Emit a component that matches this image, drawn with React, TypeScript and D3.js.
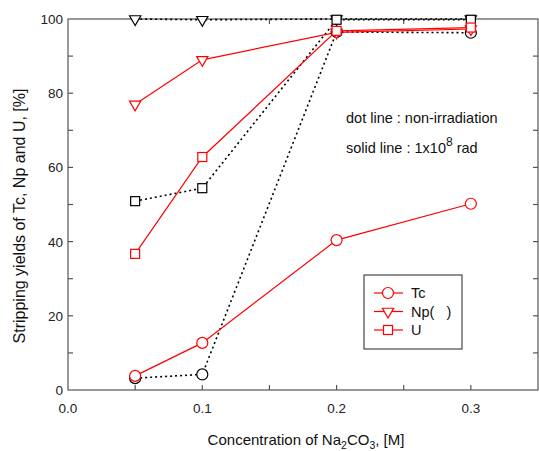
import React, { useRef, useEffect } from "react";
import { select, scaleLinear, line, symbol, symbolTriangle } from "d3";

const concentrations = [0.05, 0.1, 0.2, 0.3];

// solid red: irradiated 1x10^8 rad
const tcIrr = [3.8, 12.7, 40.4, 50.2];
const npIrr = [77.0, 89.0, 96.4, 97.3];
const uIrr = [36.7, 62.8, 96.8, 97.7];

// dotted black: non-irradiation
const tcNon = [3.2, 4.2, 96.5, 96.3];
const npNon = [100, 99.8, 100, 100];
const uNon = [50.9, 54.4, 99.8, 99.8];

const xTicks = [0.0, 0.1, 0.2, 0.3];
const yTicks = [0, 20, 40, 60, 80, 100];
const legendNames = ["Tc", "Np(   )", "U"];

const W = 539;
const H = 451;
const margin = { left: 68, right: 1, top: 19, bottom: 61 };

const FONT = "Arial, 'Liberation Sans', sans-serif";

const App = () => {
  const svgRef = useRef<SVGSVGElement>(null);

  useEffect(() => {
    const svg = select(svgRef.current);
    svg.selectAll("*").remove();

    const x = scaleLinear().domain([0, 0.35]).range([margin.left, W - margin.right]);
    const y = scaleLinear().domain([0, 100]).range([H - margin.bottom, margin.top]);
    const x0 = x(0), x1 = x(0.35), y0 = y(0), y1 = y(100);

    const frame = svg.append("g").attr("stroke", "#555").attr("stroke-width", 1.2);
    frame.append("rect").attr("x", x0).attr("y", y1).attr("width", x1 - x0).attr("height", y0 - y1).attr("fill", "none");

    // ticks, inward, on all sides
    for (let v = 0.05; v < 0.35; v += 0.05) {
      frame.append("line").attr("x1", x(v)).attr("x2", x(v)).attr("y1", y0).attr("y2", y0 - 5);
      frame.append("line").attr("x1", x(v)).attr("x2", x(v)).attr("y1", y1).attr("y2", y1 + 5);
    }
    for (let v = 10; v < 100; v += 10) {
      frame.append("line").attr("x1", x0).attr("x2", x0 + 5).attr("y1", y(v)).attr("y2", y(v));
      frame.append("line").attr("x1", x1).attr("x2", x1 - 5).attr("y1", y(v)).attr("y2", y(v));
    }

    svg.selectAll(".xt").data(xTicks).join("text")
      .attr("x", (d) => x(d)).attr("y", y0 + 23)
      .attr("text-anchor", "middle").attr("font-family", FONT).attr("font-size", 13.5).attr("fill", "#222")
      .text((d) => d.toFixed(1));

    svg.selectAll(".yt").data(yTicks).join("text")
      .attr("x", x0 - 5).attr("y", (d) => y(d) + 5)
      .attr("text-anchor", "end").attr("font-family", FONT).attr("font-size", 13.5).attr("fill", "#222")
      .text((d) => d);

    const xl = svg.append("text").attr("x", 306).attr("y", 445).attr("text-anchor", "middle")
      .attr("font-family", FONT).attr("font-size", 15).attr("fill", "#111");
    xl.append("tspan").text("Concentration of Na");
    xl.append("tspan").attr("dy", 4).attr("font-size", 10.5).text("2");
    xl.append("tspan").attr("dy", -4).text("CO");
    xl.append("tspan").attr("dy", 4).attr("font-size", 10.5).text("3");
    xl.append("tspan").attr("dy", -4).text(", [M]");

    svg.append("text").attr("transform", "translate(25,216) rotate(-90)")
      .attr("text-anchor", "middle").attr("font-family", FONT).attr("font-size", 16).attr("fill", "#111")
      .text("Stripping yields of Tc, Np and U, [%]");

    const ln = line<number>().x((d, i) => x(concentrations[i])).y((d) => y(d));

    const drawMarker = (g, kind, cx, cy, color) => {
      if (kind === "circle") {
        g.append("circle").attr("cx", cx).attr("cy", cy).attr("r", 5.5)
          .attr("fill", "white").attr("stroke", color).attr("stroke-width", 1.2);
      } else if (kind === "square") {
        g.append("rect").attr("x", cx - 4.5).attr("y", cy - 4.5).attr("width", 9).attr("height", 9)
          .attr("fill", "white").attr("stroke", color).attr("stroke-width", 1.2);
      } else {
        g.append("path").attr("d", symbol(symbolTriangle, 55)())
          .attr("transform", `translate(${cx},${cy}) rotate(180)`)
          .attr("fill", "white").attr("stroke", color).attr("stroke-width", 1.2);
      }
    };

    const series = [
      { vals: tcNon, kind: "circle", color: "#000", dash: "2,3" },
      { vals: npNon, kind: "tri", color: "#000", dash: "2,3" },
      { vals: uNon, kind: "square", color: "#000", dash: "2,3" },
      { vals: tcIrr, kind: "circle", color: "#f00", dash: null },
      { vals: npIrr, kind: "tri", color: "#f00", dash: null },
      { vals: uIrr, kind: "square", color: "#f00", dash: null },
    ];

    series.forEach((s) => {
      svg.append("path").attr("d", ln(s.vals)).attr("fill", "none")
        .attr("stroke", s.color).attr("stroke-width", s.dash ? 1.6 : 1.2)
        .attr("stroke-dasharray", s.dash);
    });
    series.forEach((s) => {
      const g = svg.append("g");
      s.vals.forEach((v, i) => drawMarker(g, s.kind, x(concentrations[i]), y(v), s.color));
    });

    // annotations
    svg.append("text").attr("x", 346).attr("y", 123).attr("font-family", FONT).attr("font-size", 14.5)
      .attr("fill", "#111").text("dot line : non-irradiation");
    const sl = svg.append("text").attr("x", 346).attr("y", 153).attr("font-family", FONT).attr("font-size", 14.5)
      .attr("fill", "#111");
    sl.append("tspan").text("solid line : 1x10");
    sl.append("tspan").attr("dy", -7).attr("font-size", 12).text("8");
    sl.append("tspan").attr("dy", 7).text(" rad");

    // legend
    const lg = svg.append("g");
    lg.append("rect").attr("x", 364).attr("y", 275).attr("width", 98).attr("height", 74)
      .attr("fill", "white").attr("stroke", "#222").attr("stroke-width", 1);
    ["circle", "tri", "square"].forEach((k, i) => {
      const cy = 293 + i * 18.5;
      lg.append("line").attr("x1", 374).attr("x2", 403).attr("y1", cy).attr("y2", cy)
        .attr("stroke", "#f00").attr("stroke-width", 1.2);
      drawMarker(lg, k, 388, cy, "#f00");
      lg.append("text").attr("x", 411).attr("y", cy + 5).attr("font-family", FONT).attr("font-size", 14.5)
        .attr("fill", "#111").attr("xml:space", "preserve").style("white-space", "pre").text(legendNames[i]);
    });
  }, []);

  return (
    <svg ref={svgRef} width={W} height={H}
      style={{ position: "absolute", left: 0, top: 0, background: "white" }} />
  );
};

export default App;
